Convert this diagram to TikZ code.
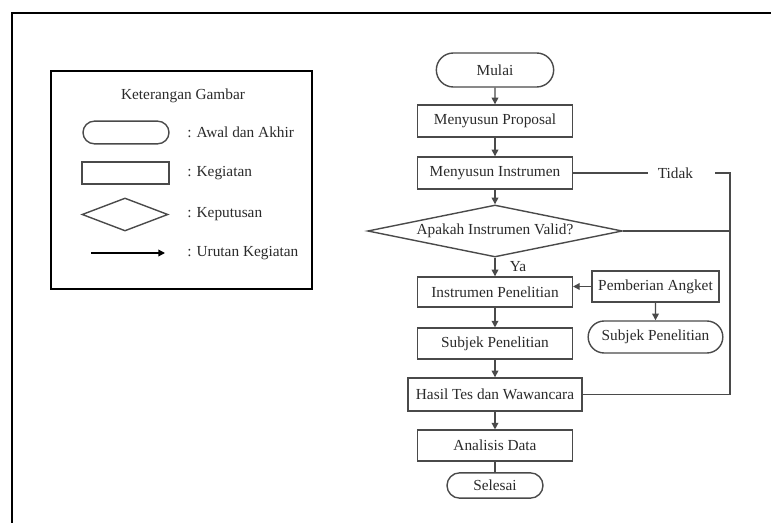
\documentclass[tikz,border=0pt]{standalone}
\usepackage{fontspec}
\setmainfont{Liberation Serif}
\usetikzlibrary{arrows.meta,shapes.geometric,shapes.misc}
\definecolor{ink}{HTML}{2A2A2A}
\definecolor{edge}{HTML}{4A4A4A}
\tikzset{
  conn/.style={draw=edge, line width=1.05pt},
  flow/.style={conn, -{Triangle[length=5pt,width=5pt]}},
  proc/.style={draw=edge, line width=1.05pt, rectangle, inner sep=0pt, minimum width=116pt, minimum height=23.5pt, text=ink, font=\fontsize{11.5}{13}\selectfont},
  term/.style={proc, rounded rectangle},
  dec/.style={proc, diamond, aspect=4.9},
  lab/.style={text=ink, font=\fontsize{11.5}{13}\selectfont, inner sep=0pt},
  frame/.style={draw=black, line width=1.6pt},
  keybox/.style={draw=black, line width=2pt},
}

\begin{document}
\begin{tikzpicture}[x=0.75pt,y=-0.75pt]
  \useasboundingbox (0,0) rectangle (771,523);
  \draw[frame] (12,523) -- (12,13) -- (771,13);

  \draw[keybox] (51,71) rectangle (312,289);
  \node[lab] (title) at (183,96) {Keterangan Gambar};
  \node[term,minimum width=64.5pt,minimum height=17pt] (kterm) at (126,132.5) {};
  \node[proc,minimum width=65pt,minimum height=16.5pt] (kproc) at (125.5,173) {};
  \node[dec,minimum width=64.5pt,minimum height=24.75pt,aspect=2.6] (kdec) at (125,214.5) {};
  \coordinate (ka1) at (91,253);
  \coordinate (ka2) at (165,253);
  \draw[flow,draw=black] (ka1) -- (ka2);
  \node[lab,anchor=west] (ltermlab) at (187,132.5) {: Awal dan Akhir};
  \node[lab,anchor=west] (lproclab) at (187,173) {: Kegiatan};
  \node[lab,anchor=west] (ldeclab) at (187,214) {: Keputusan};
  \node[lab,anchor=west] (larrlab) at (187,253) {: Urutan Kegiatan};

  \node[term,minimum width=88pt,minimum height=25.5pt] (mulai) at (495,70) {Mulai};
  \node[proc,minimum height=24pt] (proposal) at (495,121) {Menyusun Proposal};
  \node[proc,minimum height=24pt] (instrumen) at (495,173) {Menyusun Instrumen};
  \node[dec,minimum width=191pt,minimum height=39pt] (valid) at (495,231) {Apakah Instrumen Valid?};
  \node[proc,minimum height=22.5pt] (instpen) at (495,292) {Instrumen Penelitian};
  \node[proc,minimum width=95pt,minimum height=23pt] (pemberian) at (655.5,286.5) {Pemberian Angket};
  \node[term,minimum width=101pt,minimum height=24pt] (sterm) at (655.5,337) {Subjek Penelitian};
  \node[proc,minimum height=23pt] (subjek) at (495,343.5) {Subjek Penelitian};
  \node[proc,minimum width=130.5pt,minimum height=24.75pt] (hasil) at (495,394.5) {Hasil Tes dan Wawancara};
  \node[proc,minimum height=23pt] (analisis) at (495,445.5) {Analisis Data};
  \node[term,minimum width=72pt,minimum height=19pt] (selesai) at (495,485.5) {Selesai};
  \node[lab,inner xsep=7.5pt] (tidak) at (675.5,173) {Tidak};
  \node[lab] (ya) at (518,267) {Ya};
  \coordinate (loopT) at (730,173);

  \draw[flow] (mulai) -- (proposal);
  \draw[flow] (proposal) -- (instrumen);
  \draw[flow] (instrumen) -- (valid);
  \draw[flow] (valid) -- (instpen);
  \draw[flow] (instpen) -- (subjek);
  \draw[flow] (subjek) -- (hasil);
  \draw[flow] (hasil) -- (analisis);
  \draw[conn] (analisis) -- (selesai);
  \draw[flow] (pemberian.west) -- (pemberian.west -| instpen.east);
  \draw[flow] (pemberian) -- (sterm);
  \draw[conn] (instrumen.east) -- (tidak.west);
  \draw[conn,shorten <=9pt] (tidak.east) -- (loopT) |- (hasil.east);
  \draw[conn] (valid.east) -- (valid.east -| loopT);
\end{tikzpicture}
\end{document}
